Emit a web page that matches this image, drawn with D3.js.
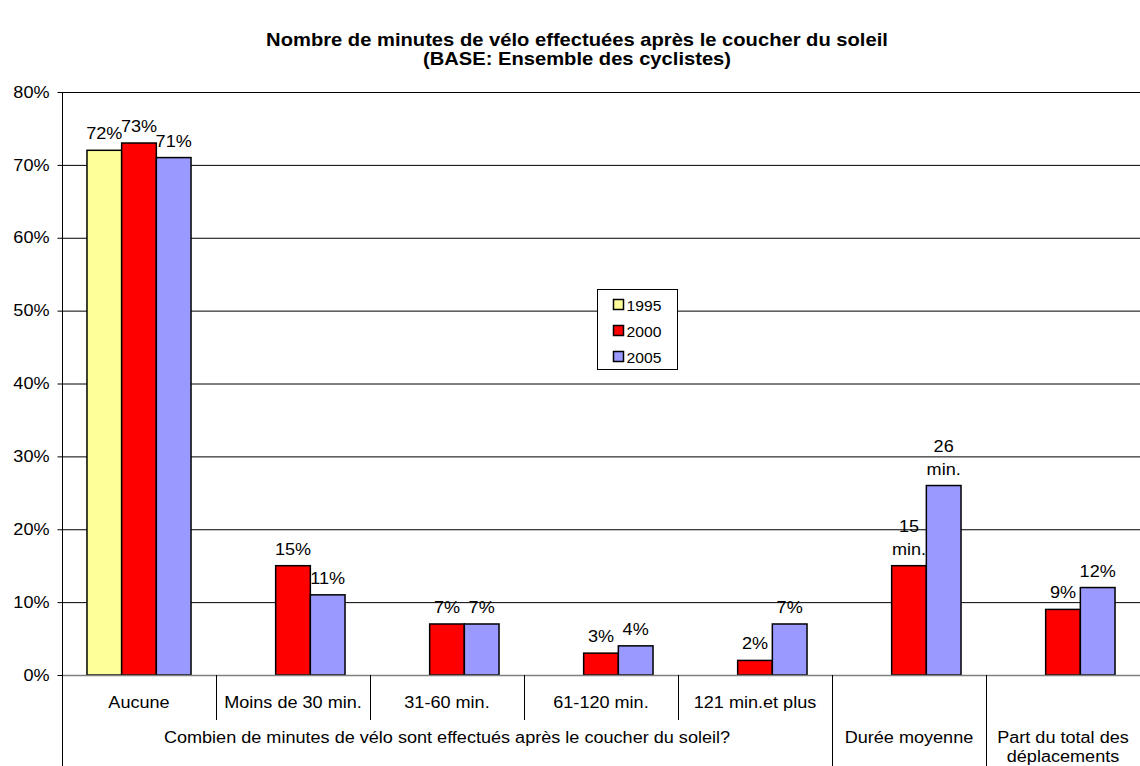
<!DOCTYPE html>
<html>
<head>
<meta charset="utf-8">
<script src="https://cdn.jsdelivr.net/npm/d3@7"></script>
<style>
  body { margin: 0; background: #fff; }
  text { font-family: "Liberation Sans", Arial, sans-serif; fill: #000; }
</style>
</head>
<body>
<div id="chart"></div>
<script>
// define data
var categories = ["Aucune", "Moins de 30 min.", "31-60 min.", "61-120 min.", "121 min.et plus", "Durée moyenne", "Part du total des déplacements"];
var series = ["1995", "2000", "2005"];
var values1995 = [72, null, null, null, null, null, null];
var values2000 = [73, 15, 7, 3, 2, 15, 9];
var values2005 = [71, 11, 7, 4, 7, 26, 12];
// étiquettes au-dessus des barres ("|" = retour à la ligne)
var labels1995 = ["72%", "", "", "", "", "", ""];
var labels2000 = ["73%", "15%", "7%", "3%", "2%", "15|min.", "9%"];
var labels2005 = ["71%", "11%", "7%", "4%", "7%", "26|min.", "12%"];
var yTicks = [0, 10, 20, 30, 40, 50, 60, 70, 80];

// libellés 1er niveau (vides pour les groupes à une catégorie)
var level1 = ["Aucune", "Moins de 30 min.", "31-60 min.", "61-120 min.", "121 min.et plus", "", ""];
// groupes de l'axe des catégories (2ème niveau)
var groups = [
  { label: ["Combien de minutes de vélo sont effectués après le coucher du soleil?"], from: 0, to: 4 },
  { label: ["Durée moyenne"], from: 5, to: 5 },
  { label: ["Part du total des", "déplacements"], from: 6, to: 6 }
];

// taille chart
var width = 1140;
var height = 766;
var margin = { top: 92, right: 0, bottom: 91, left: 62 };
var fontSize = 16;
var stretch = 1.13; // le texte de l'original est un peu élargi

var color = d3.scaleOrdinal().domain(series).range(["#FFFF99", "#FF0000", "#9999FF"]);

var svg = d3.select('#chart')
  .append('svg')
  .attr('width', width)
  .attr('height', height);

// élargit horizontalement un texte autour de son point d'ancrage
function widen(sel, s) {
  sel.each(function() {
    var t = d3.select(this);
    var x = t.attr('x');
    if (x === null) {
      var first = t.select('tspan');
      x = first.empty() ? 0 : first.attr('x');
    }
    x = +x || 0;
    t.attr('transform', 'translate(' + x + ',0) scale(' + s + ',1) translate(' + (-x) + ',0)');
  });
}

// titre
var title = svg.append('text')
  .attr('text-anchor', 'middle')
  .style('font-size', '18px')
  .style('font-weight', 'bold');
title.append('tspan').attr('x', 577).attr('y', 46).text("Nombre de minutes de vélo effectuées après le coucher du soleil");
title.append('tspan').attr('x', 577).attr('y', 65).text("(BASE: Ensemble des cyclistes)");
widen(title, 1.12);

var x0 = d3.scaleBand()
  .domain(d3.range(categories.length))
  .range([margin.left, width - margin.right]);

var x1 = d3.scaleBand()
  .domain(series)
  .range([0, x0.bandwidth()])
  .paddingInner(0)
  .paddingOuter(0.72); // espace entre groupes

var y = d3.scaleLinear()
  .domain([0, 80])
  .range([height - margin.bottom, margin.top]);

// grille
svg.append('g')
  .selectAll('line')
  .data(yTicks.filter(function(d) { return d > 0; }))
  .enter()
  .append('line')
  .attr('x1', margin.left)
  .attr('x2', width - margin.right)
  .attr('y1', function(d) { return y(d) + 0.5; })
  .attr('y2', function(d) { return y(d) + 0.5; })
  .attr('stroke', '#000')
  .attr('stroke-width', 1);

// axe Y
var yAxis = svg.append('g')
  .attr('transform', 'translate(' + (margin.left + 0.5) + ',0)')
  .call(d3.axisLeft(y).tickValues(yTicks).tickSize(5).tickPadding(8).tickFormat(function(d) { return d + '%'; }));
yAxis.select('.domain').remove();
yAxis.selectAll('.tick line').attr('stroke', '#000');
yAxis.selectAll('.tick text')
  .style('font-size', fontSize + 'px')
  .style('font-family', '"Liberation Sans", Arial, sans-serif')
  .call(widen, stretch);

// barres
var table = [];
categories.forEach(function(c, i) {
  [values1995, values2000, values2005].forEach(function(vals, j) {
    if (vals[i] !== null) {
      table.push({ cat: i, serie: series[j], value: vals[i], label: [labels1995, labels2000, labels2005][j][i] });
    }
  });
});

svg.append('g')
  .selectAll('rect')
  .data(table)
  .enter()
  .append('rect')
  .attr('x', function(d) { return x0(d.cat) + x1(d.serie); })
  .attr('y', function(d) { return y(d.value); })
  .attr('width', x1.bandwidth())
  .attr('height', function(d) { return y(0) - y(d.value); })
  .attr('fill', function(d) { return color(d.serie); })
  .attr('stroke', '#000')
  .attr('stroke-width', 1.5);

// étiquettes de données
svg.append('g')
  .selectAll('text')
  .data(table)
  .enter()
  .append('text')
  .attr('text-anchor', 'middle')
  .style('font-size', fontSize + 'px')
  .each(function(d) {
    var lines = d.label.split('|');
    var cx = x0(d.cat) + x1(d.serie) + x1.bandwidth() / 2;
    var t = d3.select(this);
    lines.forEach(function(l, k) {
      t.append('tspan')
        .attr('x', cx)
        .attr('y', y(d.value) - 11 - (lines.length - 1 - k) * 23)
        .text(l);
    });
  })
  .call(widen, stretch);

// ligne du zéro
svg.append('line')
  .attr('x1', margin.left)
  .attr('x2', width)
  .attr('y1', y(0) + 0.5)
  .attr('y2', y(0) + 0.5)
  .attr('stroke', '#808080')
  .attr('stroke-width', 1.5);

// axe vertical gauche (descend jusqu'en bas)
svg.append('line')
  .attr('x1', margin.left + 0.5)
  .attr('x2', margin.left + 0.5)
  .attr('y1', margin.top)
  .attr('y2', height)
  .attr('stroke', '#000');

// axe des catégories : séparateurs
var base = y(0);
d3.range(1, categories.length).forEach(function(i) {
  var isGroupEdge = groups.some(function(g) { return g.from === i; });
  svg.append('line')
    .attr('x1', Math.round(x0(i)) + 0.5)
    .attr('x2', Math.round(x0(i)) + 0.5)
    .attr('y1', base)
    .attr('y2', isGroupEdge ? height : base + 45)
    .attr('stroke', '#000');
});

// libellés 1er niveau
svg.append('g')
  .selectAll('text')
  .data(level1)
  .enter()
  .append('text')
  .attr('x', function(d, i) { return x0(i) + x0.bandwidth() / 2; })
  .attr('y', base + 33)
  .attr('text-anchor', 'middle')
  .style('font-size', fontSize + 'px')
  .text(function(d) { return d; })
  .call(widen, stretch);

// libellés 2ème niveau
groups.forEach(function(g) {
  var cx = (x0(g.from) + x0(g.to) + x0.bandwidth()) / 2;
  var t = svg.append('text')
    .attr('text-anchor', 'middle')
    .style('font-size', fontSize + 'px');
  g.label.forEach(function(l, k) {
    t.append('tspan')
      .attr('x', cx)
      .attr('y', base + 68 + k * 19)
      .text(l);
  });
  widen(t, stretch);
});

// légende
var legend = svg.append('g')
  .attr('transform', 'translate(597.5,289.5)');

legend.append('rect')
  .attr('width', 80)
  .attr('height', 80)
  .attr('fill', '#fff')
  .attr('stroke', '#000')
  .attr('stroke-width', 1);

var item = legend.selectAll('.legend')
  .data(series)
  .enter()
  .append('g')
  .attr('class', 'legend')
  .attr('transform', function(d, i) { return 'translate(16,' + (10 + i * 26) + ')'; });

item.append('rect')
  .attr('width', 10)
  .attr('height', 10)
  .attr('fill', color)
  .attr('stroke', '#000')
  .attr('stroke-width', 1.5);

item.append('text')
  .attr('x', 13)
  .attr('y', 11)
  .style('font-size', '14px')
  .text(function(d) { return d; })
  .call(widen, 1.12);
</script>
</body>
</html>
